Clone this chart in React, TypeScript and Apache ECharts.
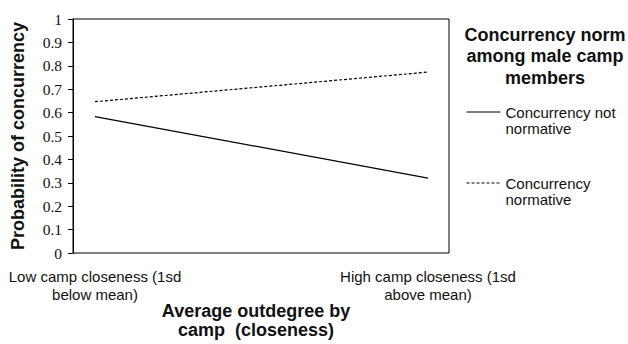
import React, { useEffect, useRef } from "react";
import * as echarts from "echarts";

const categories = ["Low camp closeness (1sd\nbelow mean)", "High camp closeness (1sd\nabove mean)"];
const seriesNames = ["Concurrency not\nnormative", "Concurrency\nnormative"];
const notNormative = [0.588, 0.329];
const normative = [0.651, 0.776];
const yTitle = "Probability of concurrency";
const xTitle = "Average outdegree by\ncamp  (closeness)";
const legendTitle = "Concurrency norm\namong male camp\nmembers";

export default function App() {
  const ref = useRef<HTMLDivElement>(null);
  useEffect(() => {
    if (!ref.current) return;
    const chart = echarts.init(ref.current, undefined, { renderer: "svg" });
    const sans = "'Liberation Sans', Arial, sans-serif";
    const serif = "'Liberation Serif', 'Times New Roman', serif";
    chart.setOption({
      animation: false,
      backgroundColor: "#fff",
      grid: [
        { left: 95, right: 200, top: 19, bottom: 88 },
        { left: 73, right: 179, top: 19, bottom: 88, show: true, borderColor: "#000", borderWidth: 1, backgroundColor: "transparent" },
      ],
      xAxis: [
        {
          type: "category",
          gridIndex: 0,
          data: categories,
          boundaryGap: false,
          axisLine: { show: false },
          axisTick: { show: false },
          axisLabel: { color: "#111", fontFamily: sans, fontSize: 15, lineHeight: 18, margin: 11, interval: 0 },
        },
        {
          type: "value",
          gridIndex: 1,
          min: 0,
          max: 1,
          axisLine: { show: false },
          axisTick: { show: false },
          axisLabel: { show: false },
          splitLine: { show: false },
          name: xTitle,
          nameLocation: "middle",
          nameGap: 48,
          nameTextStyle: { color: "#111", fontFamily: sans, fontSize: 18, fontWeight: "bold", lineHeight: 19, padding: [0, 10, 0, 0] },
        },
      ],
      yAxis: [
        {
          type: "value",
          gridIndex: 1,
          min: 0,
          max: 1,
          interval: 0.1,
          axisLine: { show: true, lineStyle: { color: "#000", width: 1 } },
          axisTick: { show: true, length: 5, lineStyle: { color: "#000" } },
          axisLabel: { color: "#111", fontFamily: serif, fontSize: 15.5, margin: 11 },
          splitLine: { show: false },
          name: yTitle,
          nameLocation: "middle",
          nameGap: 46,
          nameTextStyle: { color: "#111", fontFamily: sans, fontSize: 18, fontWeight: "bold" },
        },
        { type: "value", gridIndex: 0, min: 0, max: 1, show: false },
      ],
      legend: {
        orient: "vertical",
        left: 466,
        top: 88,
        padding: 0,
        itemWidth: 34,
        itemHeight: 14,
        itemGap: 23,
        itemStyle: { opacity: 0 },
        lineStyle: { width: 1 },
        formatter: (name: string) => "\n" + name,
        textStyle: { color: "#111", fontFamily: sans, fontSize: 15, lineHeight: 16 },
        data: seriesNames,
      },
      graphic: [
        {
          type: "text",
          x: 545,
          y: 24,
          style: {
            text: legendTitle,
            fill: "#111",
            font: `bold 18px ${sans}`,
            lineHeight: 21.5,
            textAlign: "center",
            textVerticalAlign: "top",
          },
        },
      ],
      series: [
        {
          name: seriesNames[0],
          type: "line",
          xAxisIndex: 0,
          yAxisIndex: 1,
          data: notNormative,
          symbol: "none",
          lineStyle: { color: "#000", width: 1.3, type: "solid" },
          itemStyle: { color: "#000" },
        },
        {
          name: seriesNames[1],
          type: "line",
          xAxisIndex: 0,
          yAxisIndex: 1,
          data: normative,
          symbol: "none",
          lineStyle: { color: "#000", width: 1.2, type: [3, 2] },
          itemStyle: { color: "#000" },
        },
      ],
    });
    return () => chart.dispose();
  }, []);
  return <div ref={ref} style={{ position: "fixed", left: 0, top: 0, width: 628, height: 344 }} />;
}
